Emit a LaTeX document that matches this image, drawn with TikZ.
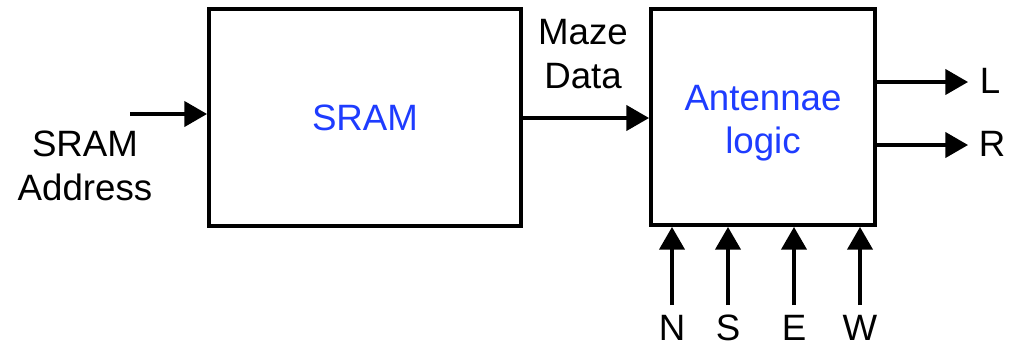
\documentclass[tikz,border=0pt]{standalone}
\usepackage{fontspec}
\setmainfont{Liberation Sans}
\usetikzlibrary{arrows.meta}
\definecolor{lblue}{RGB}{30,60,255}
\tikzset{
  blk/.style={draw,line width=3pt,minimum width=#1,inner sep=0pt},
  sig/.style={line width=2.3pt,-{Triangle[length=17pt,width=19pt]}},
  lbl/.style={align=center,font=\fontsize{27.5}{32.5}\selectfont}
}
\begin{document}
\begin{tikzpicture}[x=0.75pt,y=-0.75pt]
      \useasboundingbox (0,0) rectangle (1020,347);
      % blocks
      \node[blk=234pt,minimum height=162.75pt,lbl,text=lblue] (sram) at (365,117.5) {SRAM};
      \node[blk=168pt,minimum height=162pt] (ant) at (763,117) {};
      \node[lbl,text=lblue] (anttxt) at (763,123) {Antennae\\logic};
      % inputs and outputs
      \coordinate (addr) at (130,114);
      \draw[sig] (addr) -- (addr -| sram.west);
      \node[lbl] (addrtxt) at (85,166) {SRAM\\Address};
      \draw[sig] (sram.east |- 0,118) coordinate (mz) -- (mz -| ant.west);
      \node[lbl] (maze) at (583,54) {Maze\\Data};
      \coordinate (lout) at (968,82);
      \coordinate (rout) at (968,145);
      \draw[sig] (lout -| ant.east) -- (lout);
      \draw[sig] (rout -| ant.east) -- (rout);
      \node[lbl] (ltxt) at (990,81) {L};
      \node[lbl] (rtxt) at (992,144) {R};
      \foreach \x/\d in {672/N,728/S,794/E,860/W} {
        \coordinate (in\d) at (\x,305);
        \draw[sig] (in\d) -- (in\d |- ant.south);
        \node[lbl] (t\d) at (\x,328) {\d};
      }
\end{tikzpicture}
\end{document}
